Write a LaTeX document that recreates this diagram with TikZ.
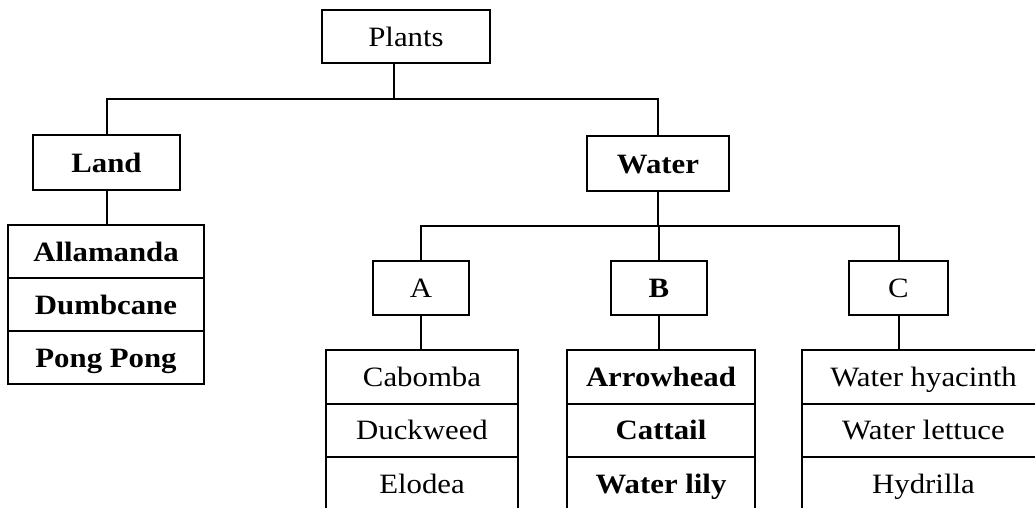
\documentclass[tikz,border=0pt]{standalone}
\usepackage{fontspec}
\setmainfont[FakeStretch=1.1]{Liberation Serif}
\begin{document}
\begin{tikzpicture}[x=1pt,y=-1pt,
  lw/.style={line width=2pt},
  box/.style={draw, line width=2pt, inner sep=0pt, minimum height=54pt,
    font=\fontsize{28}{34}\selectfont, text height=19pt, text depth=0pt},
  row/.style={box, minimum height=53.5pt}]
\useasboundingbox (0,0) rectangle (1035,507);
% top levels
\node[box, minimum width=168pt, minimum height=53pt] (plants) at (406,36.5) {Plants};
\node[box, minimum width=147pt, minimum height=55pt] (land) at (106.5,162.5) {\bfseries Land};
\node[box, minimum width=142pt, minimum height=55pt] (water) at (658,163.5) {\bfseries Water};
\node[box, minimum width=96pt] (a) at (421,288) {A};
\node[box, minimum width=96pt] (b) at (659,288) {\bfseries B};
\node[box, minimum width=99pt] (c) at (898.5,288) {C};
% land list
\node[row, minimum width=196pt, minimum height=53pt] (l1) at (106,251.5) {\bfseries Allamanda};
\node[row, minimum width=196pt, minimum height=53pt] (l2) at (106,304.5) {\bfseries Dumbcane};
\node[row, minimum width=196pt, minimum height=53pt] (l3) at (106,357.5) {\bfseries Pong Pong};
% A list
\node[row, minimum width=192pt] (a1) at (422,376.75) {Cabomba};
\node[row, minimum width=192pt] (a2) at (422,430.25) {Duckweed};
\node[row, minimum width=192pt] (a3) at (422,483.75) {Elodea};
% B list
\node[row, minimum width=188pt] (b1) at (661,376.75) {\bfseries Arrowhead};
\node[row, minimum width=188pt] (b2) at (661,430.25) {\bfseries Cattail};
\node[row, minimum width=188pt] (b3) at (661,483.75) {\bfseries Water lily};
% C list
\node[row, minimum width=243pt] (c1) at (923.5,376.75) {Water hyacinth};
\node[row, minimum width=243pt] (c2) at (923.5,430.25) {Water lettuce};
\node[row, minimum width=243pt] (c3) at (923.5,483.75) {Hydrilla};
% junctions
\coordinate (j1) at (394,99);
\coordinate (j2) at (657,226);
% connectors
\draw[lw] (plants.south -| j1) -- (j1);
\draw[lw] (land.north) -- (land.north |- j1) -- (water.north |- j1) -- (water.north);
\draw[lw] (water.south) -- (water.south |- j2);
\draw[lw] (a.north) -- (a.north |- j2) -- (c.north |- j2) -- (c.north);
\draw[lw] (b.north) -- (b.north |- j2);
\draw[lw] (land.south) -- (land.south |- l1.north);
\draw[lw] (a.south) -- (a.south |- a1.north);
\draw[lw] (b.south) -- (b.south |- b1.north);
\draw[lw] (c.south) -- (c.south |- c1.north);
\end{tikzpicture}
\end{document}
